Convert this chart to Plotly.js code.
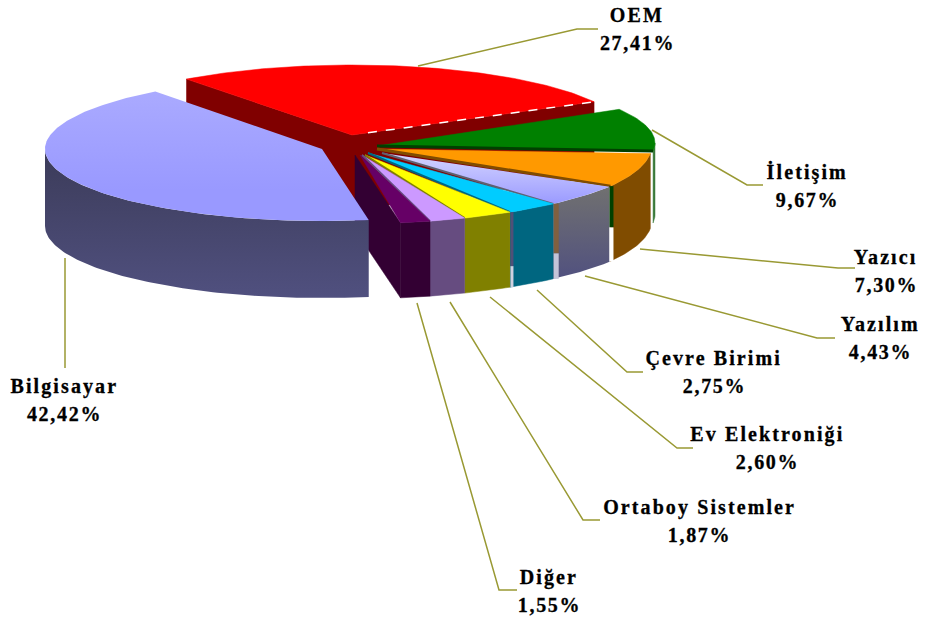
<!DOCTYPE html>
<html><head><meta charset="utf-8">
<script src="https://cdn.plot.ly/plotly-3.0.1.min.js"></script>
<style>html,body{margin:0;padding:0;background:#fff;overflow:hidden}
#chart .annotation-text{letter-spacing:1.7px;stroke:#000;stroke-width:0.3px}
#chart .annotation:nth-of-type(even) .annotation-text{letter-spacing:2.1px}</style>
</head><body><div id="chart" style="width:927px;height:619px"></div>
<script>
// ---------- data ----------
const categories = ["OEM","İletişim","Yazıcı","Yazılım","Çevre Birimi","Ev Elektroniği","Ortaboy Sistemler","Diğer","Bilgisayar"];
const shares = [27.41,9.67,7.30,4.43,2.75,2.60,1.87,1.55,42.42];
const topColors = ["#ff0000","#008000","#ff9900","#9999ff","#00ccff","#ffff00","#cc99ff","#660066","#9999ff"];
const wallColors = ["#800000","#3a7a3a","#804c00","#606070","#006680","#808000","#664c80","#330033","#474770"];

// ---------- projection of the tilted pie ----------
const firstAngle = -127;
const D = Math.PI/180;
const rim = [
 {cx:352,cy:135,rx:275,ry:70,ax:352,ay:135,edge:0,d:75},
 {cx:356,cy:143,rx:299,ry:71,ax:377,ay:146,edge:3,d:72},
 {cx:391,cy:145,rx:261,ry:76,ax:377,ay:149,edge:3,d:75},
 {cx:348,cy:143,rx:311,ry:81,ax:382,ay:153,edge:2,d:75},
 {cx:348,cy:143,rx:311,ry:81,ax:368,ay:153,edge:2,d:75},
 {cx:348,cy:143,rx:311,ry:81,ax:365,ay:155,edge:2,d:75},
 {cx:348,cy:143,rx:311,ry:81,ax:362,ay:155,edge:2,d:75},
 {cx:348,cy:143,rx:311,ry:81,ax:360,ay:155,edge:0,d:75},
 {cx:322,cy:149,rx:277,ry:72,ax:322,ay:149,edge:0,d:77}
];
const total = shares.reduce((a,b)=>a+b,0);
let acc = firstAngle;
const spans = shares.map(v=>{const s=[acc,acc+v/total*360];acc=s[1];return s;});
const px=(g,t)=>g.cx+g.rx*Math.cos(t*D), py=(g,t)=>g.cy+g.ry*Math.sin(t*D);
function arc(g,a,b,dy){const xs=[],ys=[];const n=Math.max(2,Math.ceil(Math.abs(b-a)));
 for(let i=0;i<=n;i++){const t=a+(b-a)*i/n;xs.push(px(g,t));ys.push(py(g,t)+(dy||0));}return{xs,ys};}

const traces=[];
function poly(xs,ys,color,grad){
 const t={type:'scatter',mode:'lines',x:[...xs,xs[0]],y:[...ys,ys[0]],fill:'toself',fillcolor:color,
  line:{width:0.5,color:color},hoverinfo:'skip',showlegend:false};
 if(grad){t.fillgradient=grad;t.line.width=0;}
 traces.push(t);
}
function stroke(xs,ys,color,w,dash){traces.push({type:'scatter',mode:'lines',x:xs,y:ys,
  line:{color:color,width:w,dash:dash||'solid'},hoverinfo:'skip',showlegend:false});}
function vgrad(c0,c1,y0,y1){return {type:'vertical',colorscale:[[0,c0],[1,c1]],start:y0,stop:y1};}
function drawWall(i,grad){
 const g=rim[i];const a=Math.max(spans[i][0],0),b=Math.min(spans[i][1],180);
 if(b<=a)return;
 const u=arc(g,a,b,0),l=arc(g,b,a,g.d);
 poly([...u.xs,...l.xs],[...u.ys,...l.ys],wallColors[i],grad);
}
function drawTop(i,grad,edgeColor){
 const g=rim[i],u=arc(g,spans[i][0],spans[i][1],0);
 poly([g.ax,...u.xs],[g.ay,...u.ys],topColors[i],grad);
 if(g.edge) stroke([g.ax,px(g,spans[i][1])],[g.ay,py(g,spans[i][1])],edgeColor||wallColors[i],g.edge);
}
// radial cut face of a slice at angle t, from apex point down through the depth
function drawFace(i,t,apx,apy){
 const g=rim[i],x=px(g,t),y=py(g,t);
 poly([apx,x,x,apx],[apy,y,y+g.d,apy+g.d],wallColors[i]);
}
// narrow vertical gap between neighbouring slices
function seam(i,dx,w,c0,frac,c1){
 const g=rim[i],t=spans[i][1],x=px(g,t)+dx,y=py(g,t);
 stroke([x,x],[y,y+g.d*frac],c0,w);
 stroke([x,x],[y+g.d*frac,y+g.d],c1,w);
}

// OEM, farthest back
drawFace(0,spans[0][0],352,135);
drawFace(0,spans[0][1],352,135);
drawTop(0);
const oemEnd=[px(rim[0],spans[0][1]),py(rim[0],spans[0][1])];
stroke([rim[0].ax+(oemEnd[0]-rim[0].ax)*0.066,oemEnd[0]],[rim[0].ay+(oemEnd[1]-rim[0].ay)*0.066,oemEnd[1]],"#ffffff",1.5,"9px,9px");
// İletişim
drawWall(1);
drawTop(1,null,"#004000");
// Yazıcı
drawWall(2); drawTop(2);
// Yazılım
drawWall(3,vgrad("#707070","#4f4f80",188,285));
drawTop(3,vgrad("#d4d4ff","#9999ff",153,205));
// Çevre Birimi, Ev Elektroniği, Ortaboy
drawWall(4); drawTop(4);
drawWall(5); drawTop(5);
drawWall(6); drawTop(6);
// Diğer with its large cut face
drawFace(7,spans[7][1],355,155);
drawWall(7); drawTop(7);
// gaps between the rims
seam(2,1,4,"#004000",0.55,"#ffffff");
seam(3,3,5,"#806040",0.66,"#c4c4d8");
seam(4,2,3,"#505078",0.72,"#d0d0e0");
// Bilgisayar, exploded to the front left
drawWall(8,vgrad("#3c3c5a","#50507f",155,297));
drawTop(8,vgrad("#aaaaff","#9999ff",92,190));

// ---------- leader lines ----------
const leaderColor="#999933";
const leaders=[
 [[418,577,598],[66,29,29]],
 [[652,747,763],[130,185,185]],
 [[640,838,855],[249,268,268]],
 [[585,817,835],[276,338,338]],
 [[537,627,643],[290,372,372]],
 [[490,677,693],[297,448,448]],
 [[450,583,600],[302,520,520]],
 [[417,499,517],[303,590,590]],
 [[65,65],[258,368]]
];
leaders.forEach(l=>stroke(l[0],l[1],leaderColor,1.5));

// ---------- labels ----------
const labelCentres=[[637,15],[807,172],[886,257],[880,324],[714,358],[767,434],[699,507],[549,577],[64,386]];
const labelFont={family:'"Liberation Serif","Times New Roman",serif',size:20,color:'#000000'};
const annotations=[];
categories.forEach((c,i)=>{
 const p=labelCentres[i];
 const pct=shares[i].toFixed(2).replace('.',',')+'%';
 [[c,0],[pct,28]].forEach(([txt,dy])=>annotations.push({xref:'x',yref:'y',x:p[0],y:p[1]+dy,text:'<b>'+txt+'</b>',
   showarrow:false,xanchor:'center',yanchor:'middle',font:labelFont}));
});

const hidden=r=>({range:r,visible:false,fixedrange:true,showgrid:false,zeroline:false});
Plotly.newPlot('chart',traces,{
 width:927,height:619,margin:{l:0,r:0,t:0,b:0,pad:0},paper_bgcolor:'#ffffff',plot_bgcolor:'#ffffff',
 showlegend:false,hovermode:false,xaxis:hidden([0,927]),yaxis:hidden([619,0]),annotations:annotations
},{displayModeBar:false,staticPlot:true});
</script></body></html>
